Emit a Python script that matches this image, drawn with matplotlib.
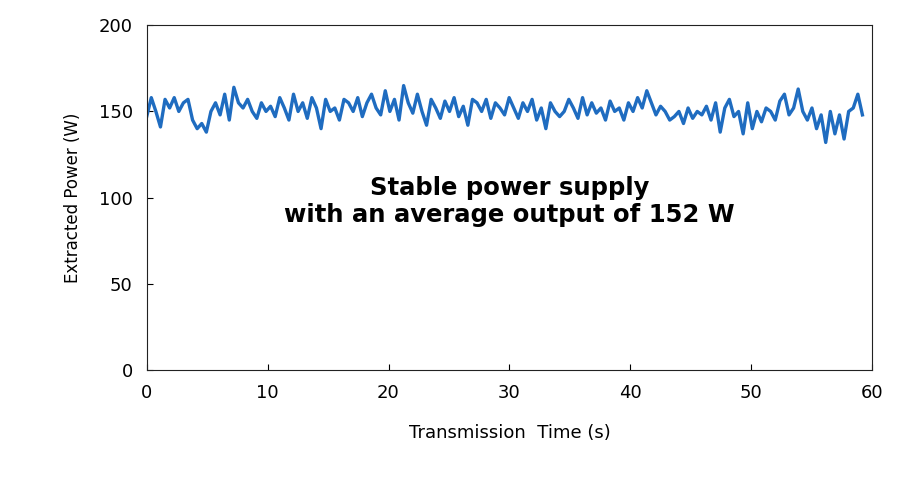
import numpy as np
import matplotlib
matplotlib.use("Agg")
import matplotlib.pyplot as plt

power = [147,158,150,141,157,152,158,150,155,157,145,140,143,
         138,150,155,148,160,145,164,155,152,157,150,146,155,
         150,153,147,158,152,145,160,150,155,146,158,152,140,
         157,150,152,145,157,155,150,158,147,155,160,152,148,
         162,150,157,145,165,155,149,160,150,142,157,152,146,
         156,150,158,147,153,142,157,155,150,157,146,155,152,
         148,158,152,146,155,150,157,145,152,140,155,150,147,
         150,157,152,146,158,148,155,149,152,145,156,150,152,
         145,155,150,158,152,162,155,148,153,150,145,147,150,
         143,152,146,150,148,153,145,155,138,152,157,147,150,
         137,155,140,150,144,152,150,145,156,160,148,152,163,
         150,145,152,140,148,132,150,137,148,134,150,152,160,148]
time = np.linspace(0, 59.2, len(power))
xticks = [0, 10, 20, 30, 40, 50, 60]
yticks = [0, 50, 100, 150, 200]

plt.rcParams["font.family"] = "DejaVu Sans"
fig = plt.figure(figsize=(9, 4.95), dpi=100)
ax = fig.add_axes([0.163, 0.2525, 0.806, 0.6965])
ax.plot(time, power, color="#1f6cc0", lw=2.4)
ax.set_xlim(0, 60)
ax.set_ylim(0, 200)
ax.set_xticks(xticks)
ax.set_yticks(yticks)
ax.tick_params(labelsize=13, direction="in", length=4, pad=10)
ax.set_xlabel("Transmission  Time (s)", fontsize=13, labelpad=16)
ax.set_ylabel("Extracted Power (W)", fontsize=12, labelpad=12)
for s in ax.spines.values():
    s.set_color("#222222")
ax.text(0.5, 0.49, "Stable power supply\nwith an average output of 152 W",
        transform=ax.transAxes, ha="center", va="center",
        fontsize=17.5, fontweight="bold", linespacing=1.15)
fig.savefig("out.png", dpi=100)
